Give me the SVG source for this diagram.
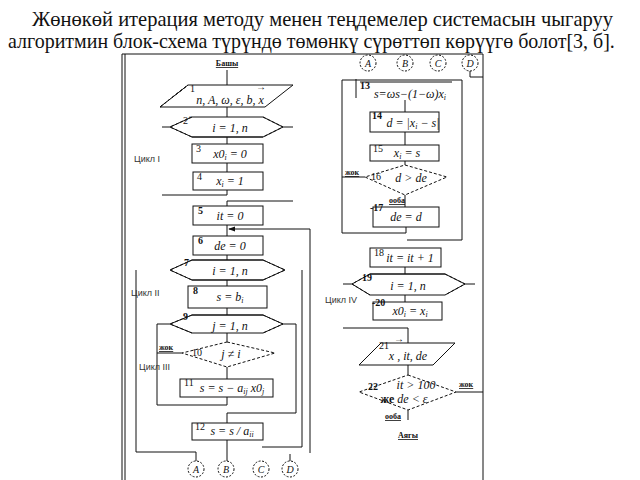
<svg xmlns="http://www.w3.org/2000/svg" width="640" height="480" viewBox="0 0 640 480">
<style>
.ln{stroke:#111;stroke-width:1;fill:none}
.bx{fill:#fff;stroke:#111;stroke-width:1}
.ds{stroke-dasharray:3,2}
.hd{font-family:"Liberation Serif",serif;font-size:21px;fill:#111}
.t{font-family:"Liberation Serif",serif;font-size:12px;font-style:italic;fill:#111;text-anchor:middle}
.n{font-family:"Liberation Serif",serif;font-size:10px;fill:#111}
.lb{font-family:"Liberation Serif",serif;font-size:8px;font-weight:bold;fill:#111;text-decoration:underline}
.cy{font-family:"Liberation Sans",sans-serif;font-size:9px;fill:#333}
.sb{font-size:8px}
.cc{fill:#fff;stroke:#111;stroke-width:1;stroke-dasharray:2,1.5}
.ct{font-family:"Liberation Serif",serif;font-size:10px;font-style:italic;fill:#111;text-anchor:middle}
</style>
<defs>
<marker id="ah" viewBox="0 0 8 8" refX="7" refY="4" markerWidth="7" markerHeight="7" orient="auto"><path d="M0,1 L8,4 L0,7 z" fill="#111"/></marker>
</defs>
<rect width="640" height="480" fill="#fff"/>
<text class="hd" x="32" y="26" textLength="581" lengthAdjust="spacingAndGlyphs">Жөнөкөй итерация методу менен теңдемелер системасын чыгаруу</text>
<text class="hd" transform="matrix(0.951,0,0,1,8,48)" x="0" y="0">алгоритмин блок-схема түрүндө төмөнкү сүрөттөп көрүүгө болот[3, б].</text>

<g id="frame">
<path class="ln" d="M122,54 H483"/>
<path class="ln" d="M122,54 V480 M125,54 V480"/>
<path class="ln" d="M483,54 V480" stroke-width="2.5"/>
</g>

<g id="connectors">
<path class="ln" d="M227,70 V85 M227,107 V117 M227,137 V144 M227,163 V172 M227,190 V195 H162"/>
<path class="ln" d="M162,127 H170 M283,127 H293"/>
<path class="ln" d="M293,201 H227 V206 M227,225 V236 M227,255 V260 M227,280 V286 M227,308 V315 M227,333 V342 M227,367 V379"/>
<path class="ln" d="M310,453 V229 H229" marker-end="url(#ah)"/>
<path class="ln" d="M227,397 V405 H157 V324 H170"/>
<path class="ln" d="M283,324 H296 V413 H227 V423 M227,440 V461"/>
<path class="ln" d="M136,270 V452 H196 V461"/>
<path class="ln" d="M302,270 V447 H262"/>
<path class="ln" d="M290,454 V461"/>
<path class="ln" d="M182,353 H157"/>
<path class="ln" d="M470,71 V77 H483"/>
<path class="ln" d="M356,79 V98 M360,82 H452"/>
<path class="ln" d="M405,100 V112 M405,132 V145 M405,161 V165 M405,195 V207"/>
<path class="ln" d="M342,233 V80 H462 V240 H407"/>
<path class="ln" d="M406,227 V233 H342 M365,177 H342"/>
<path class="ln" d="M405,267 V274 M405,295 V302 M343,284 H352 M465,284 H475"/>
<path class="ln" d="M343,328 H408 V343 M408,365 V375 M456,392 H483 M408,410 V420"/>
</g>

<g id="start"><text class="lb" x="227" y="66" text-anchor="middle" font-size="9">Башы</text></g>

<g id="b1">
<path class="bx" d="M188,85 H293 L265,107 H160 Z"/>
<path class="ln ds" d="M160,107 L188,85" stroke="#fff" stroke-width="2"/>
<path class="ln ds" d="M160,107 L188,85"/>
<text class="n" x="190" y="92">1</text>
<text class="t" x="230" y="104">n, A, ω, ε, b, x</text>
<text class="n" x="256" y="90" font-size="8">→</text>
</g>

<g id="b2">
<path class="bx" d="M192,117 H263 L283,127 L263,137 H192 L170,127 Z" stroke="none"/>
<path class="ln" d="M192,137 H263"/>
<path class="ln ds" d="M192,117 L170,127 L192,137 M263,117 L283,127 L263,137"/>
<text class="n" x="183" y="124">2´</text>
<text class="t" x="230" y="132">i = 1, n</text>
</g>

<g id="b3">
<rect class="bx" x="192" y="144" width="71" height="19"/>
<text class="n" x="196" y="152">3</text>
<text class="t" x="230" y="158">x0<tspan class="sb" dy="2">i</tspan><tspan dy="-2"> = 0</tspan></text>
</g>
<g id="b4">
<rect class="bx" x="193" y="172" width="70" height="18"/>
<text class="n" x="197" y="180">4</text>
<text class="t" x="230" y="185">x<tspan class="sb" dy="2">i</tspan><tspan dy="-2"> = 1</tspan></text>
</g>
<g id="b5">
<rect class="bx" x="193" y="206" width="70" height="19"/>
<text class="n" x="198" y="214" font-weight="bold">5</text>
<text class="t" x="230" y="220">it = 0</text>
</g>
<g id="b6">
<rect class="bx" x="193" y="236" width="70" height="19"/>
<text class="n" x="198" y="244" font-weight="bold">6</text>
<text class="t" x="230" y="250">de = 0</text>
</g>
<g id="b7">
<path class="bx" d="M192,260 H263 L285,270 L263,280 H192 L170,270 Z" stroke="none"/>
<path class="ln" d="M192,260 H263 M192,280 H263"/>
<path class="ln ds" d="M192,260 L170,270 L192,280 M263,260 L285,270 L263,280"/>
<text class="n" x="184" y="266" font-weight="bold">7</text>
<text class="t" x="230" y="275">i = 1, n</text>
</g>
<g id="b8">
<rect class="bx" x="188" y="286" width="79" height="22"/>
<text class="n" x="193" y="294" font-weight="bold">8</text>
<text class="t" x="230" y="301">s = b<tspan class="sb" dy="2">i</tspan></text>
</g>
<g id="b9">
<path class="bx" d="M192,315 H263 L283,324 L263,333 H192 L170,324 Z" stroke="none"/>
<path class="ln" d="M192,315 H263"/>
<path class="ln ds" d="M192,315 L170,324 L192,333 M263,315 L283,324 L263,333"/>
<text class="n" x="183" y="320" font-weight="bold">9</text>
<text class="t" x="230" y="330">j = 1, n</text>
</g>
<g id="b10">
<path class="bx ds" d="M227,342 L275,353 L227,367 L182,353 Z"/>
<text class="n" x="192" y="356">10</text>
<text class="t" x="231" y="358">j ≠ i</text>
<text class="lb" x="159" y="350">жок</text>
</g>
<g id="b11">
<rect class="bx" x="180" y="379" width="93" height="18"/>
<text class="n" x="184" y="386">11</text>
<text class="t" x="232" y="392">s = s − a<tspan class="sb" dy="2">ij</tspan><tspan dy="-2"> x0</tspan><tspan class="sb" dy="2">j</tspan></text>
</g>
<g id="b12">
<rect class="bx" x="192" y="423" width="71" height="17"/>
<text class="n" x="195" y="430">12</text>
<text class="t" x="232" y="435">s = s / a<tspan class="sb" dy="2">ii</tspan></text>
</g>

<g id="labels-cycles">
<text class="cy" x="134" y="162">Цикл I</text>
<text class="cy" x="131" y="296">Цикл II</text>
<text class="cy" x="139" y="370">Цикл III</text>
<text class="cy" x="325" y="303">Цикл IV</text>
</g>

<g id="conA1"><circle class="cc" cx="196" cy="469" r="8"/><text class="ct" x="196" y="473">A</text></g>
<g id="conB1"><circle class="cc" cx="226" cy="469" r="8"/><text class="ct" x="226" y="473">B</text></g>
<g id="conC1"><circle class="cc" cx="261" cy="469" r="8"/><text class="ct" x="261" y="473">C</text></g>
<g id="conD1"><circle class="cc" cx="290" cy="469" r="8"/><text class="ct" x="290" y="473">D</text></g>
<g id="conA2"><circle class="cc" cx="368" cy="63" r="8"/><text class="ct" x="368" y="67">A</text></g>
<g id="conB2"><circle class="cc" cx="405" cy="63" r="8"/><text class="ct" x="405" y="67">B</text></g>
<g id="conC2"><circle class="cc" cx="438" cy="63" r="8"/><text class="ct" x="438" y="67">C</text></g>
<g id="conD2"><circle class="cc" cx="470" cy="63" r="8"/><text class="ct" x="470" y="67">D</text></g>

<g id="b13">
<text class="n" x="360" y="89" font-weight="bold">13</text>
<text class="t" x="410" y="98" font-size="11">s=ωs−(1−ω)x<tspan class="sb" dy="2">i</tspan></text>
</g>
<g id="b14">
<rect class="bx" x="370" y="112" width="69" height="20"/>
<text class="n" x="372" y="119" font-weight="bold">14</text>
<text class="t" x="413" y="127">d = |x<tspan class="sb" dy="2">i</tspan><tspan dy="-2"> − s|</tspan></text>
</g>
<g id="b15">
<rect class="bx" x="370" y="145" width="69" height="16"/>
<text class="n" x="373" y="152">15</text>
<text class="t" x="407" y="157">x<tspan class="sb" dy="2">i</tspan><tspan dy="-2"> = s</tspan></text>
</g>
<g id="b16">
<path class="bx ds" d="M405,165 L447,177 L405,195 L365,177 Z"/>
<text class="n" x="371" y="180">16</text>
<text class="t" x="411" y="182">d &gt; de</text>
<text class="lb" x="345" y="175">жок</text>
<text class="lb" x="389" y="203">ооба</text>
</g>
<g id="b17">
<rect class="bx" x="373" y="207" width="66" height="20"/>
<text class="n" x="370" y="211" font-weight="bold">-17</text>
<text class="t" x="406" y="221">de = d</text>
</g>
<g id="b18">
<rect class="bx" x="370" y="248" width="71" height="19"/>
<text class="n" x="374" y="256">18</text>
<text class="t" x="410" y="262">it = it + 1</text>
</g>
<g id="b19">
<path class="bx" d="M370,274 H445 L465,284 L445,295 H370 L352,284 Z" stroke="none"/>
<path class="ln" d="M370,274 H445"/>
<path class="ln ds" d="M370,274 L352,284 L370,295 M445,274 L465,284 L445,295"/>
<text class="n" x="362" y="281" font-weight="bold">19</text>
<text class="t" x="408" y="290">i = 1, n</text>
</g>
<g id="b20">
<rect class="bx" x="373" y="302" width="69" height="18"/>
<text class="n" x="372" y="306" font-weight="bold">-20</text>
<text class="t" x="410" y="315">x0<tspan class="sb" dy="2">i</tspan><tspan dy="-2"> = x</tspan><tspan class="sb" dy="2">i</tspan></text>
</g>
<g id="b21">
<path class="bx" d="M381,343 H455 L433,365 H359 Z"/>
<path class="ln ds" d="M359,365 L381,343" stroke="#fff" stroke-width="2"/>
<path class="ln ds" d="M359,365 L381,343"/>
<text class="n" x="379" y="349">21</text>
<text class="t" x="408" y="360">x , it, de</text>
<text class="n" x="394" y="342" font-size="8">→</text>
</g>
<g id="b22">
<path class="bx ds" d="M408,375 L456,392 L408,410 L359,392 Z"/>
<text class="n" x="368" y="390" font-weight="bold">22</text>
<text class="t" x="416" y="389" font-size="10" font-style="normal">it &gt; 100</text>
<text class="t" x="404" y="403" font-size="9"><tspan font-style="normal" font-weight="bold">же</tspan>  de &lt; ε</text>
<text class="lb" x="459" y="387">жок</text>
<text class="lb" x="385" y="419">ооба</text>
</g>
<g id="end"><text class="lb" x="408" y="438" text-anchor="middle" font-size="9">Аягы</text></g>
</svg>
